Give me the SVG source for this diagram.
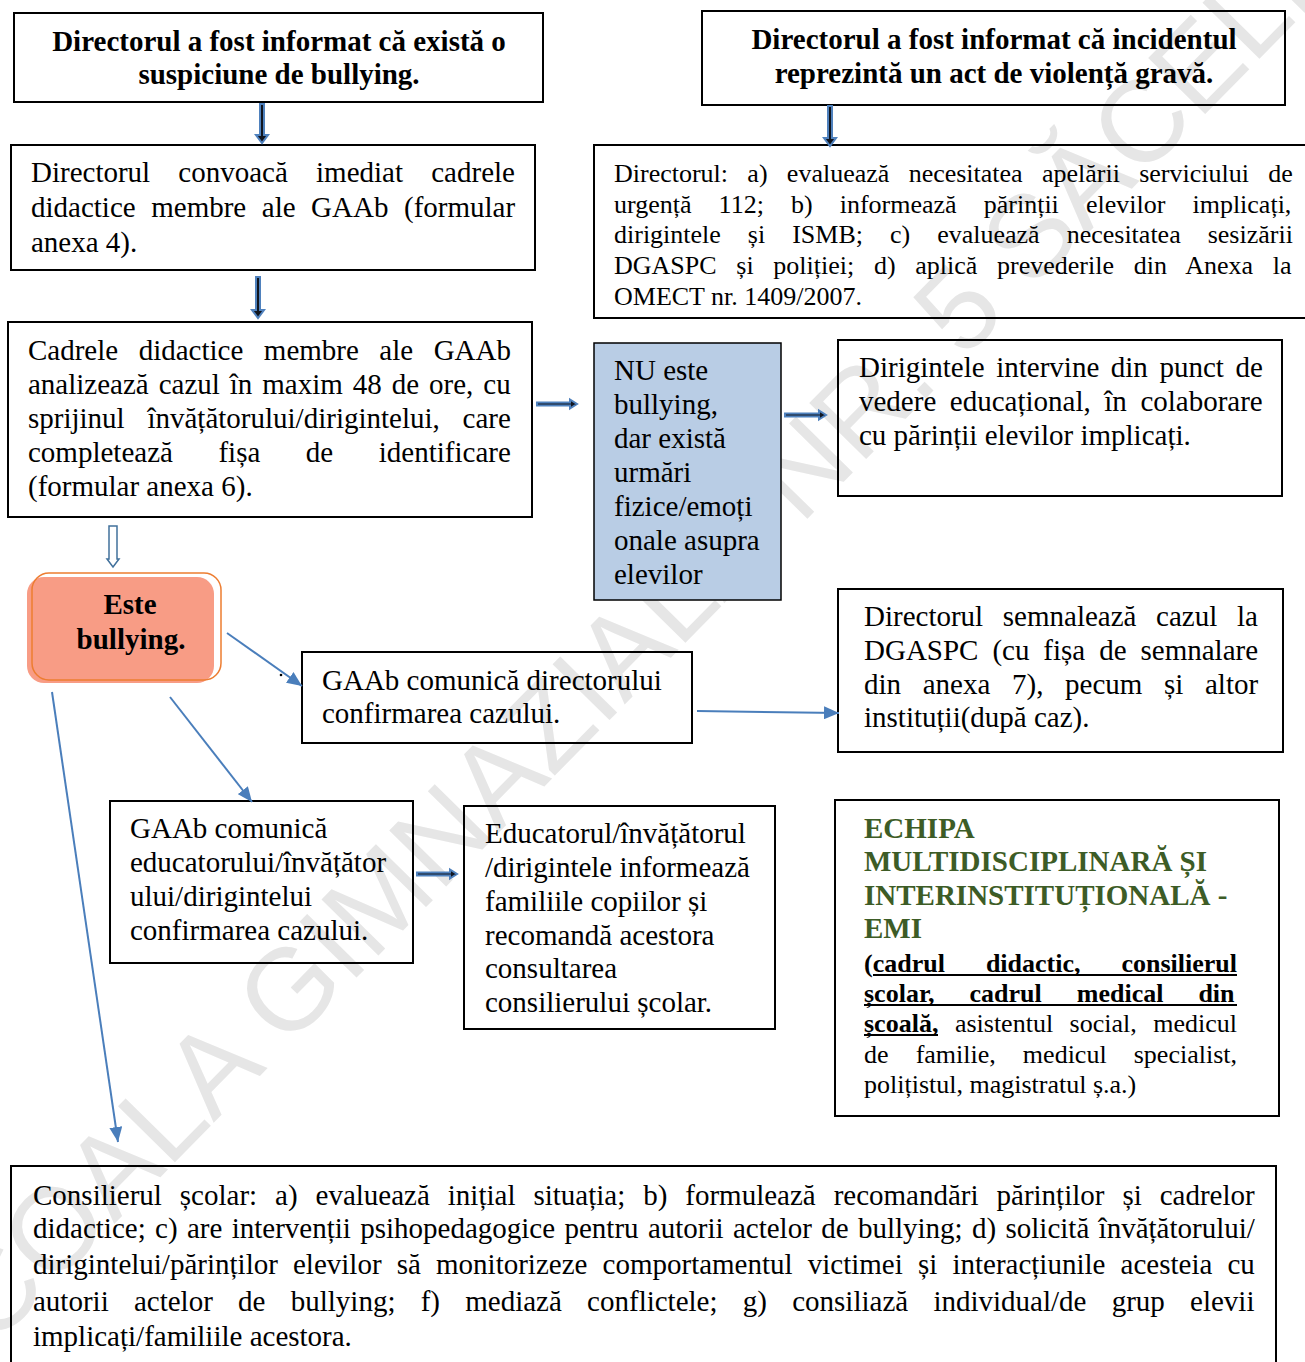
<svg xmlns="http://www.w3.org/2000/svg" width="1305" height="1362" viewBox="0 0 1305 1362">
<style>
.box{fill:none;stroke:#000;stroke-width:2}
.t{font-family:"Liberation Serif","Times New Roman",serif;font-size:29px;fill:#000}
.b{font-weight:bold}
.s{font-size:26px}
.g{fill:#3d5c26}
.c{text-anchor:middle}
.conn{stroke:#4a7ebb;stroke-width:2;fill:none;marker-end:url(#ah)}
.blk{fill:#10151f;stroke:#4f81bd;stroke-width:2}
.ul{stroke:#000;stroke-width:2}
.wm{font-family:"Liberation Sans",Arial,sans-serif;font-size:116px;fill:#e6e6e6}
</style>
<defs>
<marker id="ah" viewBox="0 0 15 13" refX="15" refY="6.5" markerWidth="15" markerHeight="13" markerUnits="userSpaceOnUse" orient="auto">
<path d="M0,0 L15,6.5 L0,13 Z" fill="#4a7ebb"/>
</marker>
</defs>
<rect width="1305" height="1362" fill="#fff"/>
<text class="wm" transform="translate(645,684) rotate(-45.5)" text-anchor="middle">ȘCOALA GIMNAZIALĂ NR. 5 SĂCELE</text>

<g id="n1">
<rect class="box" x="14" y="13" width="529" height="89"/>
<text class="t b c" x="279" y="51">Directorul a fost informat că există o</text>
<text class="t b c" x="279" y="84">suspiciune de bullying.</text>
</g>
<g id="n2">
<rect class="box" x="702" y="11" width="583" height="94"/>
<text class="t b c" x="994" y="49">Directorul a fost informat că incidentul</text>
<text class="t b c" x="994" y="83">reprezintă un act de violență gravă.</text>
</g>
<g id="n3">
<rect class="box" x="11" y="145" width="524" height="125"/>
<text class="t" x="31" y="182" style="word-spacing:20.95px">Directorul convoacă imediat cadrele</text>
<text class="t" x="31" y="217" style="word-spacing:8.3px">didactice membre ale GAAb (formular</text>
<text class="t" x="31" y="252">anexa 4).</text>
</g>
<g id="n4">
<rect class="box" x="8" y="322" width="524" height="195"/>
<text class="t" x="28" y="360" style="word-spacing:13.25px">Cadrele didactice membre ale GAAb</text>
<text class="t" x="28" y="394" style="word-spacing:2.7px">analizează cazul în maxim 48 de ore, cu</text>
<text class="t" x="28" y="428" style="word-spacing:15.5px">sprijinul învățătorului/dirigintelui, care</text>
<text class="t" x="28" y="462" style="word-spacing:38.3px">completează fișa de identificare</text>
<text class="t" x="28" y="496">(formular anexa 6).</text>
</g>
<g id="n5">
<rect class="box" x="594" y="145" width="720" height="173"/>
<text class="t s" x="614" y="182" style="word-spacing:12.8px">Directorul: a) evaluează necesitatea apelării serviciului de</text>
<text class="t s" x="614" y="213" style="word-spacing:20.6px">urgență 112; b) informează părinții elevilor implicați,</text>
<text class="t s" x="614" y="243" style="word-spacing:20.5px">dirigintele și ISMB; c) evaluează necesitatea sesizării</text>
<text class="t s" x="614" y="274" style="word-spacing:13.2px">DGASPC și poliției; d) aplică prevederile din Anexa la</text>
<text class="t s" x="614" y="305">OMECT nr. 1409/2007.</text>
</g>
<g id="n6">
<rect x="594" y="343" width="187" height="257" fill="#b9cde5" stroke="#000" stroke-width="1.5"/>
<text class="t" x="614" y="380">NU este</text>
<text class="t" x="614" y="414">bullying,</text>
<text class="t" x="614" y="448">dar există</text>
<text class="t" x="614" y="482">urmări</text>
<text class="t" x="614" y="516">fizice/emoți</text>
<text class="t" x="614" y="550">onale asupra</text>
<text class="t" x="614" y="584">elevilor</text>
</g>
<g id="n7">
<rect class="box" x="838" y="340" width="444" height="156"/>
<text class="t" x="859" y="377" style="word-spacing:4.3px">Dirigintele intervine din punct de</text>
<text class="t" x="859" y="411" style="word-spacing:6.3px">vedere educațional, în colaborare</text>
<text class="t" x="859" y="445">cu părinții elevilor implicați.</text>
</g>
<g id="n8">
<rect x="27" y="577" width="187" height="106" rx="17" fill="#f89c85"/>
<rect x="32" y="573" width="189" height="107" rx="17" fill="none" stroke="#ed7d31" stroke-width="1.5"/>
<text class="t b c" x="130" y="614">Este</text>
<text class="t b c" x="131" y="649">bullying.</text>
</g>
<g id="n9">
<rect class="box" x="302" y="652" width="390" height="91"/>
<text class="t" x="322" y="690">GAAb comunică directorului</text>
<text class="t" x="322" y="723">confirmarea cazului.</text>
</g>
<g id="n10">
<rect class="box" x="838" y="589" width="445" height="163"/>
<text class="t" x="864" y="626" style="word-spacing:12.4px">Directorul semnalează cazul la</text>
<text class="t" x="864" y="660" style="word-spacing:6.7px">DGASPC (cu fișa de semnalare</text>
<text class="t" x="864" y="694" style="word-spacing:14.4px">din anexa 7), pecum și altor</text>
<text class="t" x="864" y="727">instituții(după caz).</text>
</g>
<g id="n11">
<rect class="box" x="110" y="801" width="303" height="162"/>
<text class="t" x="130" y="838">GAAb comunică</text>
<text class="t" x="130" y="872">educatorului/învățător</text>
<text class="t" x="130" y="906">ului/dirigintelui</text>
<text class="t" x="130" y="940">confirmarea cazului.</text>
</g>
<g id="n12">
<rect class="box" x="464" y="806" width="311" height="223"/>
<text class="t" x="485" y="843">Educatorul/învățătorul</text>
<text class="t" x="485" y="877">/dirigintele informează</text>
<text class="t" x="485" y="911">familiile copiilor și</text>
<text class="t" x="485" y="945">recomandă acestora</text>
<text class="t" x="485" y="978">consultarea</text>
<text class="t" x="485" y="1012">consilierului școlar.</text>
</g>
<g id="n13">
<rect class="box" x="835" y="800" width="444" height="316"/>
<text class="t b g" x="864" y="838">ECHIPA</text>
<text class="t b g" x="864" y="871">MULTIDISCIPLINARĂ ȘI</text>
<text class="t b g" x="864" y="905">INTERINSTITUȚIONALĂ -</text>
<text class="t b g" x="864" y="938">EMI</text>
<text class="t s b" x="864" y="972" style="word-spacing:34.5px">(cadrul didactic, consilierul</text>
<text class="t s b" x="864" y="1002" style="word-spacing:28.5px">școlar, cadrul medical din</text>
<text class="t s" x="864" y="1032" style="word-spacing:10px"><tspan class="b">școală,</tspan> asistentul social, medicul</text>
<text class="t s" x="864" y="1063" style="word-spacing:20.6px">de familie, medicul specialist,</text>
<text class="t s" x="864" y="1093">polițistul, magistratul ș.a.)</text>
<line class="ul" x1="873" y1="975" x2="1237" y2="975"/>
<line class="ul" x1="864" y1="1005" x2="1237" y2="1005"/>
<line class="ul" x1="864" y1="1035" x2="938" y2="1035"/>
</g>
<g id="n14">
<rect class="box" x="11" y="1166" width="1265" height="220"/>
<text class="t" x="33" y="1205" style="word-spacing:10.7px">Consilierul școlar: a) evaluează inițial situația; b) formulează recomandări părinților și cadrelor</text>
<text class="t" x="33" y="1238" style="word-spacing:2.1px">didactice; c) are intervenții psihopedagogice pentru autorii actelor de bullying; d) solicită învățătorului/</text>
<text class="t" x="33" y="1274" style="word-spacing:7.9px">dirigintelui/părinților elevilor să monitorizeze comportamentul victimei și interacțiunile acesteia cu</text>
<text class="t" x="33" y="1311" style="word-spacing:18px">autorii actelor de bullying; f) mediază conflictele; g) consiliază individual/de grup elevii</text>
<text class="t" x="33" y="1346">implicați/familiile acestora.</text>
</g>

<g id="connectors">
<path class="blk" d="M260,104 H264 V135 H268 L262,143 L256,135 H260 Z"/>
<path class="blk" d="M256,277 H260 V310 H264 L258,318 L252,310 H256 Z"/>
<path class="blk" d="M828,106 H832 V138 H836 L830,146 L824,138 H828 Z"/>
<path d="M109,526 H117 V559 H119 L113,567 L107,559 H109 Z" fill="#fff" stroke="#41719c" stroke-width="1.5"/>
<path class="blk" d="M537,402.5 H570 V399.5 L577,404 L570,408.5 V405.5 H537 Z"/>
<path class="blk" d="M785,413.5 H819 V410.5 L826,415 L819,419.5 V416.5 H785 Z"/>
<path class="blk" d="M417,872.5 H450 V869.5 L457,874 L450,878.5 V875.5 H417 Z"/>
<line class="conn" x1="227" y1="633" x2="302" y2="686"/>
<line class="conn" x1="697" y1="711" x2="839" y2="713"/>
<line class="conn" x1="170" y1="697" x2="252" y2="802"/>
<line class="conn" x1="52" y1="692" x2="118" y2="1142"/>
<circle cx="281" cy="675" r="1.3" fill="#000"/>
</g>
</svg>
